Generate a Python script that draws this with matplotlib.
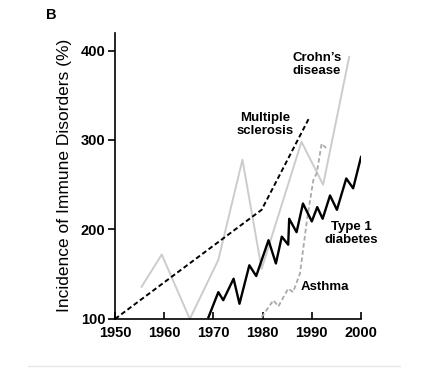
import matplotlib
matplotlib.use("Agg")
import matplotlib.pyplot as plt
from matplotlib.lines import Line2D

plt.rcParams['font.family'] = ['Liberation Sans', 'DejaVu Sans']

# data (year, % incidence)
ms_years = [1950, 1979.8, 1989.4]
ms_vals = [100, 222, 324]

crohn_years = [1955.4, 1959.5, 1965.2, 1971, 1975.9, 1979.8, 1987.9, 1992.3, 1997.6]
crohn_vals = [136, 172, 100, 166, 278, 156, 298, 250, 393]

asthma_years = [1979.8, 1982.2, 1983.2, 1985.2, 1986.2, 1987.6, 1989, 1990.3, 1991,
                1992, 1992.9]
asthma_vals = [102, 121, 114, 134, 130, 151, 210, 255, 263, 296, 291]

t1d_years = [1969, 1971, 1972, 1974.1, 1975.3, 1977.3, 1978.7, 1981.2, 1982.7, 1983.9,
             1985.2, 1985.4, 1986.9, 1988.2, 1990, 1991.1, 1992.2, 1993.7, 1995.1,
             1997, 1998.4, 2000]
t1d_vals = [102, 130, 121, 145, 117, 160, 148, 188, 162, 192, 183, 212, 197, 229, 209,
            225, 212, 238, 222, 257, 246, 281]

xticks = [1950, 1960, 1970, 1980, 1990, 2000]
yticks = [100, 200, 300, 400]

fig = plt.figure(figsize=(4.28, 3.68), dpi=100)
ax = fig.add_axes([0.2687, 0.1332, 0.5748, 0.7782])

ax.plot(crohn_years, crohn_vals, color='#cccccc', lw=1.4)
ax.plot(asthma_years, asthma_vals, color='#aaaaaa', lw=1.3, ls=(0, (2.5, 1.5)))
ax.plot(ms_years, ms_vals, color='black', lw=1.4, ls=(0, (2.5, 1.5)))
ax.plot(t1d_years, t1d_vals, color='black', lw=1.7)

ax.set_xlim(1950, 2000)
ax.set_ylim(100, 420)
ax.set_xticks(xticks)
ax.set_yticks(yticks)
for side in ('top', 'right'):
    ax.spines[side].set_visible(False)
for side in ('left', 'bottom'):
    ax.spines[side].set_linewidth(1.2)
ax.tick_params(axis='y', direction='out', length=5, width=1.2, labelsize=10.5, pad=2)
ax.tick_params(axis='x', direction='in', length=5, width=1.2, labelsize=10.5, pad=5)
for lab in ax.get_xticklabels() + ax.get_yticklabels():
    lab.set_fontweight('bold')

ax.set_ylabel('Incidence of Immune Disorders (%)', fontsize=12.5, labelpad=6)

lab_kw = dict(fontsize=9.5, fontweight='bold', ha='center', va='center',
              linespacing=1.1)
ax.text(1991, 384, "Crohn\u2019s\ndisease", **lab_kw)
ax.text(1980.5, 317, "Multiple\nsclerosis", **lab_kw)
ax.text(1998, 196, "Type 1\ndiabetes", **lab_kw)
ax.text(1992.7, 136, "Asthma", **lab_kw)

fig.text(51.7 / 428, 1 - 15 / 368, 'B', fontsize=10.5, fontweight='bold',
         ha='center', va='center')
fig.add_artist(Line2D([28 / 428, 400 / 428], [1 - 366 / 368] * 2,
                      color='#e6e6e6', lw=1, transform=fig.transFigure))

fig.savefig('out.png', dpi=100)
